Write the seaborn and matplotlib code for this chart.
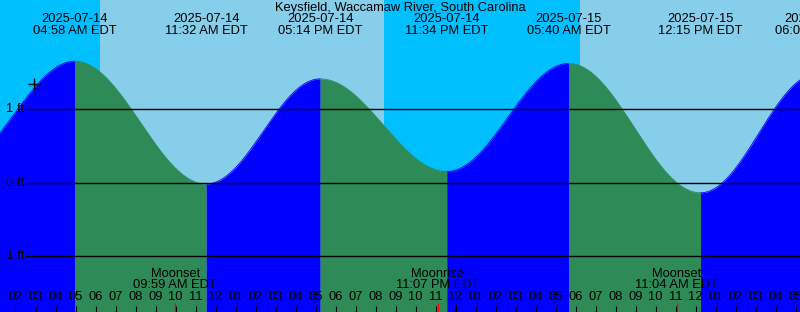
import numpy as np
import pandas as pd
import matplotlib
matplotlib.use("Agg")
import matplotlib.pyplot as plt
import matplotlib.transforms as mtransforms
import seaborn as sns

# ---------------- data ----------------
title = "Keysfield, Waccamaw River, South Carolina"
# tide extremes, hours since 2025-07-14 00:00 EDT, heights in ft
extreme_hours = [-1.0, 4.967, 11.533, 17.233, 23.567, 29.667, 36.25, 42.083]
extreme_heights = [0.25, 1.65, -0.02, 1.41, 0.15, 1.62, -0.14, 1.48]
extreme_dates = ["", "2025-07-14", "2025-07-14", "2025-07-14", "2025-07-14",
                 "2025-07-15", "2025-07-15", "2025-07-15"]
extreme_times = ["", "04:58 AM EDT", "11:32 AM EDT", "05:14 PM EDT", "11:34 PM EDT",
                 "05:40 AM EDT", "12:15 PM EDT", "06:05 PM EDT"]
# sun events (hours)
sunrise_hours = [6.22, 30.22]
sunset_hours = [20.43]
# moon events
moon_hours = [9.983, 23.117, 35.067]
moon_events = ["Moonset", "Moonrise", "Moonset"]
moon_times = ["09:59 AM EDT", "11:07 PM EDT", "11:04 AM EDT"]
# y axis
level_ticks = [-1, 0, 1]
level_labels = ["-1 ft", "0 ft", "1 ft"]
mark_hour, mark_level = 2.94, 1.336
midnight_hours = [24]

# ---------------- style ----------------
sns.set_theme(style="white")
plt.rcParams["font.family"] = ["Liberation Sans", "DejaVu Sans"]
plt.rcParams["text.color"] = "black"
FS = 9.3
DAY, NIGHT = "#87CEEB", "#00BFFF"
RISE, FALL = "#0000FF", "#2E8B57"

W, H = 800, 312
fig = plt.figure(figsize=(W / 100, H / 100), dpi=100)
ax = fig.add_axes([0, 0, 1, 1])
ax.set_axis_off()
x0, x1 = 1.225, 41.225
ytop, ybot = 182.5 / 73.5, -(H - 182.5) / 73.5
ax.set_xlim(x0, x1)
ax.set_ylim(ybot, ytop)

def fy(px):
    return 1 - px / H

bt = mtransforms.blended_transform_factory(ax.transData, ax.transAxes)
bt2 = mtransforms.blended_transform_factory(ax.transAxes, ax.transData)

# day / night background
edges = [x0 - 5] + sorted(sunrise_hours + sunset_hours) + [x1 + 5]
night = True
for a, b in zip(edges[:-1], edges[1:]):
    ax.axvspan(a, b, color=NIGHT if night else DAY, lw=0, zorder=0)
    night = not night

# tide curve segments
for i in range(len(extreme_hours) - 1):
    ta, tb = extreme_hours[i], extreme_hours[i + 1]
    ha, hb = extreme_heights[i], extreme_heights[i + 1]
    t = np.linspace(ta, tb, 200)
    h = ha + (hb - ha) * (1 - np.cos(np.pi * (t - ta) / (tb - ta))) / 2
    col = RISE if hb > ha else FALL
    ax.fill_between(t, ybot, h, color=col, lw=0, zorder=1)
    seg = pd.DataFrame({"t": t, "h": h})
    sns.lineplot(data=seg, x="t", y="h", color=col, lw=0.6, ax=ax, zorder=1.5,
                 estimator=None, sort=False)

# level lines
for lv, lab in zip(level_ticks, level_labels):
    ax.axhline(lv, xmin=26 / W, xmax=1, color="black", lw=1.0, zorder=3)
    ax.text(24.5 / W, lv, lab, transform=bt2, ha="right", va="center",
            fontsize=FS, color="black", zorder=4)

# mark
ax.plot([mark_hour], [mark_level], marker="+", ms=8, mew=1.0, color="black", zorder=4)

# title and extreme labels
ax.text(0.5, fy(7.5), title, transform=ax.transAxes, ha="center", va="center",
        fontsize=FS, color="black", zorder=5)
for t, d, s in zip(extreme_hours, extreme_dates, extreme_times):
    if not d:
        continue
    ax.text(t, fy(19.5), d, transform=bt, ha="center", va="center", fontsize=FS,
            color="black", zorder=5)
    ax.text(t, fy(31.5), s, transform=bt, ha="center", va="center", fontsize=FS,
            color="black", zorder=5)

# moon labels
for t, ev, s in zip(moon_hours, moon_events, moon_times):
    ax.text(t, fy(274), ev, transform=bt, ha="center", va="center", fontsize=FS,
            color="black", zorder=5)
    ax.text(t, fy(285.5), s, transform=bt, ha="center", va="center", fontsize=FS,
            color="black", zorder=5)

# hour ticks & labels
for hr in range(1, 43):
    h12 = hr % 12
    lab = "12" if h12 == 0 else f"{h12:02d}"
    ax.text(hr, fy(297.5), lab, transform=bt, ha="center", va="center",
            fontsize=FS, color="black", zorder=5)
    if hr in midnight_hours:
        ax.plot([hr, hr], [fy(304.5), 0], transform=bt, color="black", lw=1.6,
                zorder=5, solid_capstyle="butt")
    else:
        ax.plot([hr, hr], [fy(305.5), 0], transform=bt, color="black", lw=0.8,
                zorder=5, solid_capstyle="butt")
for t in moon_hours:
    ax.plot([t, t], [fy(303), 0], transform=bt, color="red", lw=0.9, zorder=6,
            solid_capstyle="butt")

fig.savefig("out.png", dpi=100)
